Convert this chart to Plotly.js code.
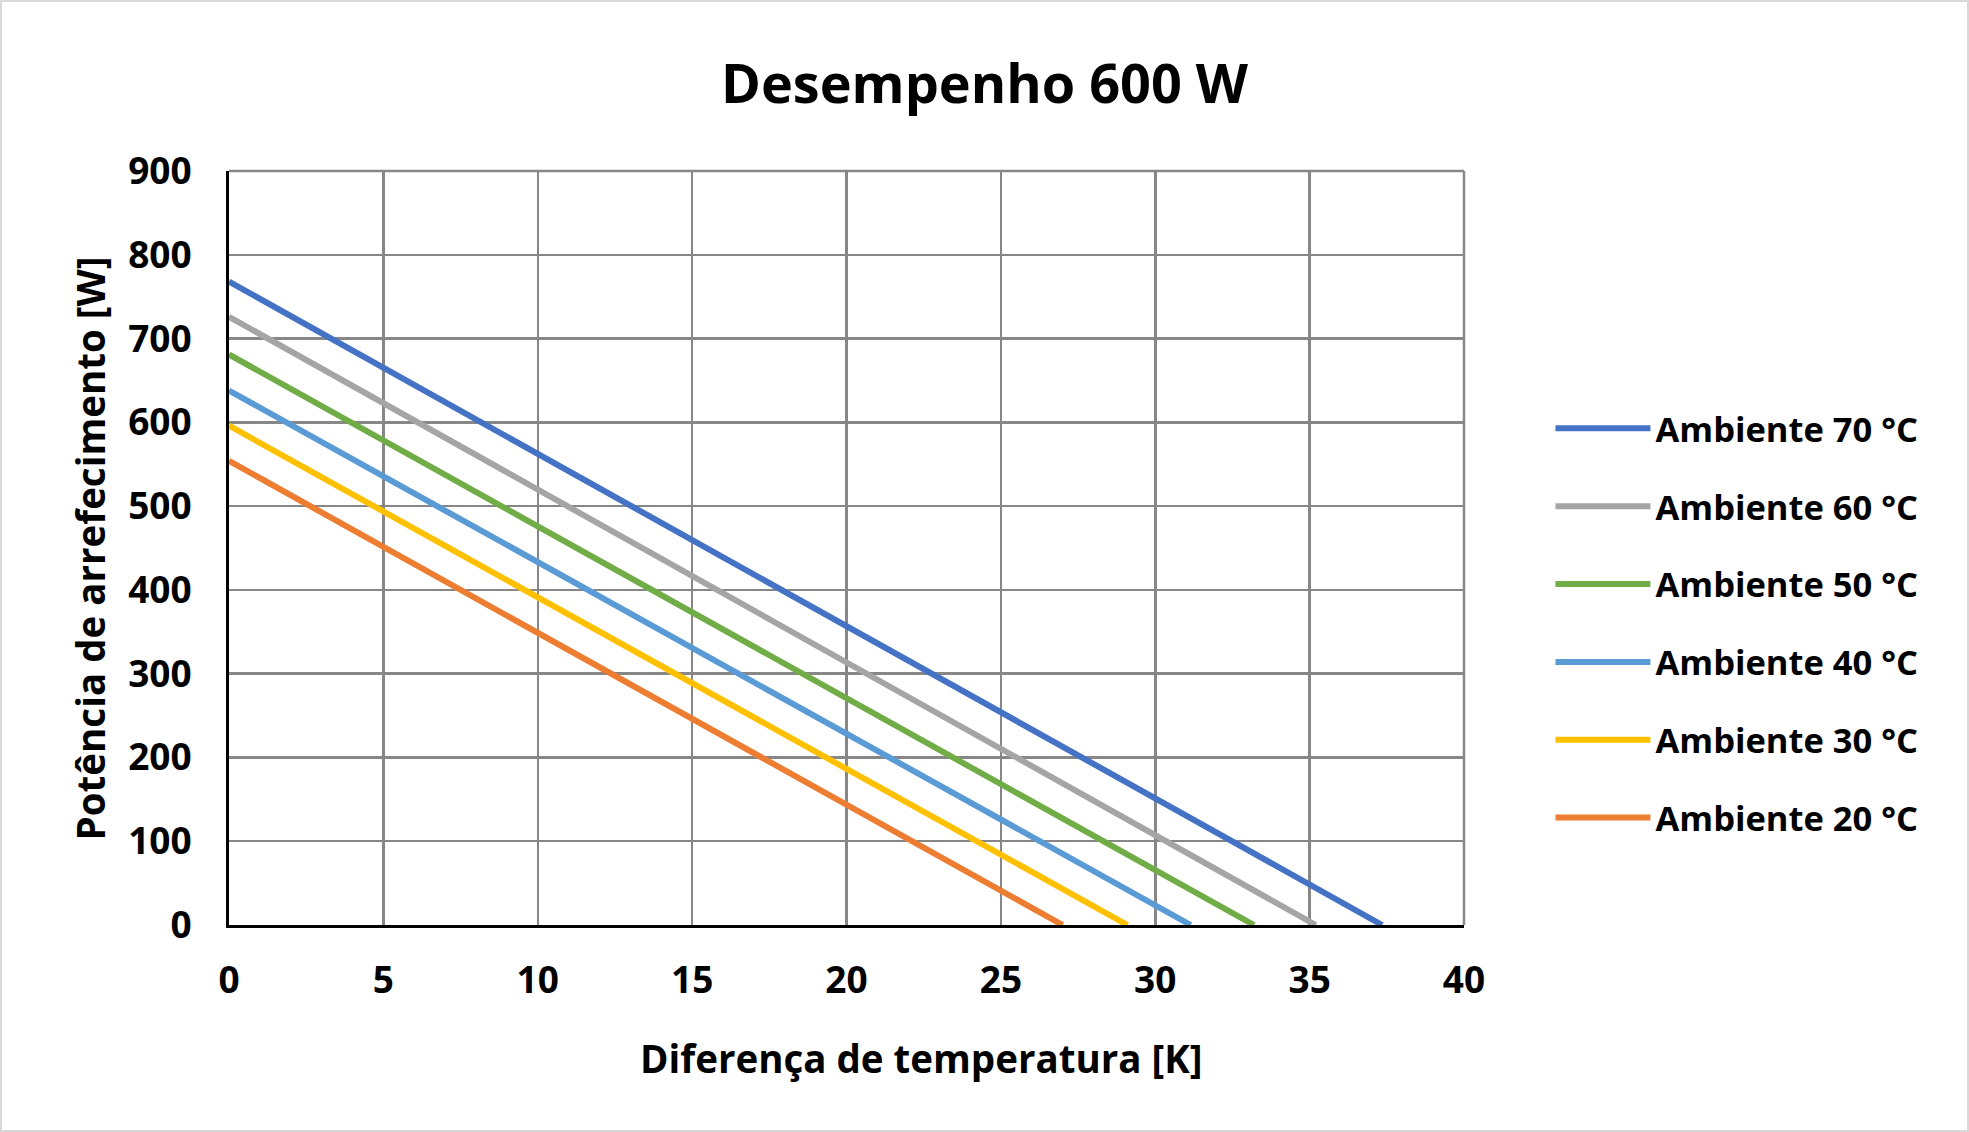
<!DOCTYPE html>
<html>
<head>
<meta charset="utf-8">
<script src="https://cdn.plot.ly/plotly-3.0.1.min.js"></script>
<style>
  html, body { margin: 0; padding: 0; background: #fff; }
  #chart { position: absolute; left: 0; top: 0; width: 1969px; height: 1132px; }
  #frame { position: absolute; left: 0; top: 0; width: 1965px; height: 1128px;
           border: 2px solid #d9d9d9; pointer-events: none; }
</style>
</head>
<body>
<div id="chart"></div>
<div id="frame"></div>
<script>
// series: ambient temperature, power at dT = 0, dT where power reaches 0
var seriesNames = ["Ambiente 70 °C", "Ambiente 60 °C", "Ambiente 50 °C",
                   "Ambiente 40 °C", "Ambiente 30 °C", "Ambiente 20 °C"];
var powerAtZero = [768, 726, 681, 638, 596, 554];
var deltaAtZeroPower = [37.35, 35.2, 33.2, 31.15, 29.1, 27.0];
var seriesColors = ["#4472C4", "#A5A5A5", "#70AD47", "#5B9BD5", "#FFC000", "#ED7D31"];

var xTicks = [0, 5, 10, 15, 20, 25, 30, 35, 40];
var yTicks = [0, 100, 200, 300, 400, 500, 600, 700, 800, 900];

var fontFamily = "'Open Sans', 'Noto Sans', sans-serif";
var gridColor = "#878787";

var data = [];
for (let i = 0; i < seriesNames.length; i++) {
    data.push({
        type: "scatter",
        mode: "lines",
        name: seriesNames[i],
        legendgroup: "g" + i,
        x: [0, deltaAtZeroPower[i]],
        y: [powerAtZero[i], 0],
        line: {color: seriesColors[i], width: 6},
        hoverinfo: "x+y+name"
    });
}

var layout = {
    width: 1969,
    height: 1132,
    paper_bgcolor: "#ffffff",
    plot_bgcolor: "#ffffff",
    margin: {l: 229, r: 505, t: 171, b: 207},
    font: {family: fontFamily, size: 34, color: "#000000", weight: "bold"},
    title: {
        text: "<b>Desempenho 600 W</b>",
        font: {family: fontFamily, size: 54, color: "#000000"},
        x: 0.5, xanchor: "center",
        y: 1 - 84 / 1132, yanchor: "middle"
    },
    xaxis: {
        range: [0, 40],
        tickvals: xTicks,
        ticktext: xTicks.map(String),
        tickfont: {family: fontFamily, size: 37, color: "#000", weight: "bold"},
        ticks: "outside", ticklen: 21, tickcolor: "rgba(0,0,0,0)",
        showgrid: true, gridcolor: gridColor, gridwidth: 2.5,
        zeroline: false,
        showline: true, linecolor: "#000000", linewidth: 3,
        fixedrange: true
    },
    yaxis: {
        range: [0, 900],
        tickvals: yTicks,
        ticktext: yTicks.map(String),
        tickfont: {family: fontFamily, size: 37, color: "#000", weight: "bold"},
        ticks: "outside", ticklen: 27, tickcolor: "rgba(0,0,0,0)",
        showgrid: true, gridcolor: gridColor, gridwidth: 2.5,
        zeroline: false,
        showline: true, linecolor: "#000000", linewidth: 3,
        fixedrange: true
    },
    shapes: [
        // border gridlines at 900 and 40 (Plotly skips gridlines on the range edge)
        {type: "line", xref: "paper", yref: "paper", x0: 0, x1: 1, y0: 1, y1: 1,
         line: {color: gridColor, width: 2.5}, layer: "below"},
        {type: "line", xref: "paper", yref: "paper", x0: 1, x1: 1, y0: 0, y1: 1,
         line: {color: gridColor, width: 2.5}, layer: "below"}
    ],
    annotations: [
        {text: "<b>Diferença de temperatura [K]</b>", xref: "paper", yref: "paper",
         x: 0.561, y: -0.1764, xanchor: "center", yanchor: "middle", showarrow: false,
         font: {family: fontFamily, size: 38.5, color: "#000"}},
        {text: "<b>Potência de arrefecimento [W]</b>", xref: "paper", yref: "paper",
         x: -0.1122, y: 0.5, xanchor: "center", yanchor: "middle", showarrow: false,
         textangle: -90,
         font: {family: fontFamily, size: 38.5, color: "#000"}}
    ],
    showlegend: true,
    legend: {
        x: 1.07, xanchor: "left",
        y: 0.40, yanchor: "middle",
        font: {family: fontFamily, size: 34.5, color: "#000", weight: "bold"},
        itemwidth: 95,
        tracegroupgap: 30,
        bgcolor: "rgba(0,0,0,0)"
    }
};

Plotly.newPlot("chart", data, layout, {displayModeBar: false, staticPlot: true});
</script>
</body>
</html>
